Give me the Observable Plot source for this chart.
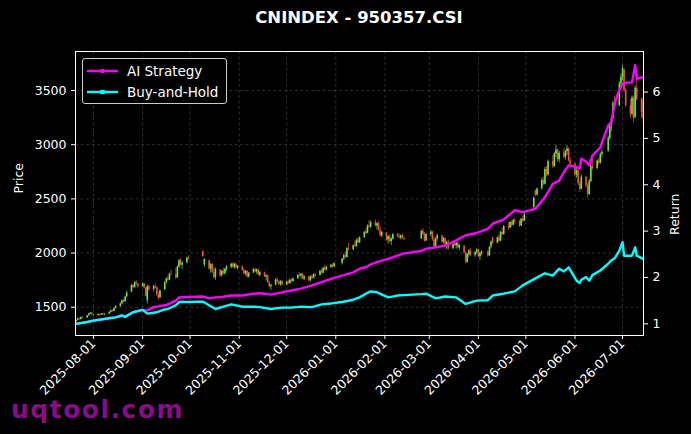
<!DOCTYPE html>
<html>
<head>
<meta charset="utf-8">
<script src="https://cdn.jsdelivr.net/npm/d3@7"></script>
<script src="https://cdn.jsdelivr.net/npm/@observablehq/plot@0.6"></script>
<style>
  body { margin: 0; background: #000; }
  #wrap { position: relative; width: 691px; height: 434px; background: #000; overflow: hidden; font-family: "DejaVu Sans", sans-serif; }
  #title { position: relative; height: 36px; line-height: 36px; margin-left: 75px; width: 568px; text-align: center; color: #fff; font-weight: bold; font-size: 16.5px; z-index: 3; }
  #chart { position: relative; z-index: 1; }
  #wm { position: absolute; left: 11px; top: 395px; line-height: 25px; font: bold 25px "DejaVu Sans", sans-serif; letter-spacing: 1.5px; color: #8b0b8b; z-index: 0; white-space: nowrap; }
  #legend { position: absolute; left: 82px; top: 58px; width: 145px; height: 46px; box-sizing: border-box; border: 1px solid #cccccc; border-radius: 3px; background: rgba(0,0,0,0.85); z-index: 2; }
  #legend svg { position: absolute; left: -1px; top: -1px; }
</style>
</head>
<body>
<div id="wrap">
  <div id="wm">uqtool.com</div>
  <div id="title">CNINDEX - 950357.CSI</div>
  <div id="chart"></div>
  <div id="legend"></div>
</div>
<script>
// ---------- data ----------
const firstDay = "2025-07-21";
const lastDay = "2026-07-14";
const holidays = ["2025-10-01","2025-10-02","2025-10-03","2025-10-06","2025-10-07","2025-10-08",
  "2026-01-01","2026-01-02","2026-02-16","2026-02-17","2026-02-18","2026-02-19","2026-02-20","2026-02-23",
  "2026-04-06","2026-05-01","2026-05-04","2026-05-05","2026-06-19"];

const open = [
  1366,1379,1394,1386,1405, 1400,1421,1437,1445,1431, 1424,1433,1427,1439,1429, 1437,1453,1470,1461,1489,
  1508,1531,1562,1550,1596, 1640,1702,1682,1726,1714, 1692,1716,1676,1560,1688, 1665,1690,1680,1612,1588,
  1660,1728,1760,1752,1805, 1800,1772,1870,1932,1888, 1910,1955, 2012,1890,
  1928,1850,1895,1820,1772, 1840,1792,1832,1810,1850, 1870,1898,1866,1893,1860, 1875,1836,1808,1830,1782,
  1815,1846,1826,1845,1796, 1818,1778,1790,1725,1688, 1705,1752,1728,1710,1738, 1705,1732,1718,1750,1738,
  1762,1795,1785,1805,1760, 1780,1745,1780,1768,1800, 1792,1835,1815,1862,1845, 1868,1888,1872,
  1905,1945,1978,1960,2042, 2032,2070,2060,2120,2095, 2142,2195,2182,2252,2240, 2285,2248,2270,2212,2158,
  2185,2120,2150,2105,2130, 2170,2148,2138,2160,2135, 2130,2200,2170,2110,
  2172,2195,2118,2058,2130, 2160,2100,2135,2060,2098, 2040,2082,2068,2090,2046, 2065,1998,1915,1985,2018,
  1978,2008,2030,1965,1998, 2010,1975,2055,2140, 2092,2140,2110,2192,2170, 2245,2232,2282,2255,2300,
  2288,2250,2312,2295, 2420,2575,2535,
  2592,2672,2635,2770,2720, 2845,2800,2915,2950,2860, 2920,2885,2935,2960,2850, 2820,2720,2760,2640,2590,
  2700,2620,2540,2660,2800, 2780,2850,2830,2910, 2940,3060,3180,3240,3380, 3360,3560,3620,3690,3500,
  3360,3280,3430,3250,3520, 3420,3400
];
const high = [
  1384,1398,1400,1410,1412, 1425,1442,1452,1448,1435, 1438,1437,1442,1441,1440, 1458,1472,1474,1494,1515,
  1540,1568,1570,1602,1648, 1712,1708,1738,1745,1720, 1724,1720,1682,1705,1700, 1700,1718,1690,1640,1660,
  1735,1770,1790,1815,1842, 1860,1880,1940,1950,1920, 1962,1975, 2022,1950,
  1935,1905,1900,1865,1862, 1848,1840,1860,1858,1885, 1905,1910,1905,1908,1885, 1880,1855,1840,1838,1820,
  1855,1860,1852,1850,1830, 1822,1800,1795,1740,1712, 1760,1775,1748,1745,1750, 1740,1752,1758,1765,1768,
  1800,1820,1812,1815,1790, 1785,1790,1800,1808,1812, 1840,1850,1868,1885,1878, 1895,1902,1910,
  1950,1990,2010,2050,2090, 2075,2110,2130,2142,2150, 2200,2225,2260,2300,2295, 2305,2280,2290,2240,2200,
  2192,2160,2170,2140,2180, 2182,2175,2165,2178,2150, 2210,2225,2190,2180,
  2210,2200,2150,2140,2175, 2165,2145,2140,2110,2120, 2090,2115,2100,2105,2080, 2070,2010,1995,2030,2040,
  2015,2040,2035,2005,2020, 2020,2060,2110,2145, 2150,2170,2200,2230,2255, 2280,2290,2300,2310,2320,
  2300,2320,2340,2365, 2520,2580,2600,
  2690,2700,2790,2800,2860, 2900,2930,2990,2960,2940, 2965,2950,2990,2970,2880, 2830,2780,2770,2660,2720,
  2710,2640,2680,2835,2870, 2860,2880,2925,2950, 3080,3200,3260,3400,3450, 3580,3650,3730,3700,3520,
  3420,3450,3450,3540,3610, 3430,3430
];
const low = [
  1362,1374,1380,1382,1392, 1396,1416,1432,1426,1415, 1418,1420,1422,1425,1424, 1432,1448,1455,1456,1484,
  1500,1525,1540,1544,1590, 1635,1672,1676,1700,1680, 1685,1670,1595,1530,1650, 1640,1670,1600,1562,1578,
  1655,1715,1742,1745,1790, 1752,1765,1860,1880,1845, 1900,1935, 1960,1870,
  1840,1812,1810,1760,1748, 1775,1778,1800,1795,1830, 1855,1860,1850,1858,1842, 1830,1800,1790,1770,1768,
  1810,1820,1805,1790,1778, 1775,1740,1720,1680,1655, 1698,1720,1700,1690,1695, 1700,1712,1710,1725,1730,
  1755,1780,1760,1752,1745, 1735,1732,1760,1762,1778, 1788,1805,1808,1835,1830, 1856,1862,1865,
  1888,1930,1950,1955,2020, 2020,2055,2050,2085,2088, 2135,2170,2178,2230,2225, 2240,2210,2200,2150,2140,
  2110,2080,2095,2070,2118, 2140,2130,2120,2130,2115, 2125,2160,2100,2105,
  2150,2110,2040,2050,2110, 2090,2085,2050,2030,2025, 2030,2060,2035,2040,2025, 1990,1900,1905,1960,1970,
  1960,1990,1960,1930,1975, 1960,1968,2040,2080, 2085,2100,2105,2160,2165, 2210,2225,2240,2250,2265,
  2235,2245,2280,2290, 2390,2520,2525,
  2580,2620,2630,2700,2710, 2780,2790,2880,2840,2830, 2870,2860,2900,2840,2800, 2700,2690,2620,2560,2580,
  2600,2510,2530,2650,2760, 2770,2810,2820,2880, 2930,3040,3120,3230,3320, 3350,3520,3590,3480,3340,
  3240,3260,3200,3240,3400, 3240,3200
];
const close = [
  1378,1392,1385,1404,1398, 1420,1438,1446,1430,1424, 1432,1426,1438,1430,1436, 1452,1468,1460,1488,1505,
  1532,1560,1548,1595,1630, 1700,1680,1725,1712,1690, 1715,1678,1600,1690,1662, 1690,1680,1615,1585,1650,
  1728,1760,1750,1805,1800, 1770,1872,1930,1890,1905, 1952,1948, 1968,1940,
  1852,1895,1822,1775,1850, 1790,1832,1812,1850,1872, 1898,1868,1895,1862,1878, 1838,1808,1832,1780,1815,
  1848,1828,1845,1798,1822, 1780,1792,1728,1690,1702, 1752,1730,1712,1738,1705, 1732,1720,1750,1740,1762,
  1795,1785,1805,1762,1782, 1745,1782,1768,1800,1790, 1832,1812,1860,1842,1870, 1888,1870,1902,
  1942,1975,1962,2040,2030, 2068,2062,2118,2092,2140, 2192,2180,2250,2240,2282, 2250,2270,2215,2160,2190,
  2120,2150,2105,2132,2168, 2148,2138,2160,2135,2125, 2200,2170,2112,2172,
  2195,2120,2060,2130,2160, 2100,2135,2062,2098,2040, 2082,2070,2090,2048,2070, 2000,1915,1985,2020,1978,
  2008,2030,1968,1998,2012, 1972,2052,2102,2090, 2140,2110,2190,2172,2245, 2230,2282,2255,2300,2290,
  2250,2312,2295,2355, 2505,2535,2590,
  2670,2635,2770,2720,2845, 2800,2915,2950,2860,2920, 2885,2935,2960,2850,2820, 2720,2760,2640,2590,2700,
  2620,2540,2660,2800,2780, 2850,2830,2910,2930, 3060,3180,3240,3380,3350, 3560,3620,3700,3500,3360,
  3280,3430,3240,3520,3420, 3300,3240
];

const returnDates = [
  "2025-07-21","2025-07-28","2025-08-01","2025-08-11","2025-08-15","2025-08-19","2025-08-21","2025-08-26",
  "2025-09-01","2025-09-04","2025-09-08","2025-09-10","2025-09-15","2025-09-17","2025-09-22","2025-09-24",
  "2025-09-30","2025-10-09","2025-10-13","2025-10-17","2025-10-21","2025-10-27","2025-11-03","2025-11-10",
  "2025-11-14","2025-11-21","2025-11-28","2025-12-04","2025-12-10","2025-12-17","2025-12-23","2025-12-29",
  "2026-01-05","2026-01-12","2026-01-16","2026-01-20","2026-01-23","2026-01-27","2026-02-03","2026-02-09",
  "2026-02-13","2026-02-24","2026-02-27","2026-03-05","2026-03-11","2026-03-18","2026-03-24","2026-03-31",
  "2026-04-07","2026-04-10","2026-04-17","2026-04-24","2026-04-29","2026-05-07","2026-05-13","2026-05-18",
  "2026-05-22","2026-05-25","2026-05-28","2026-06-02","2026-06-04","2026-06-05","2026-06-08","2026-06-10",
  "2026-06-12","2026-06-17","2026-06-22","2026-06-24","2026-06-26","2026-06-29","2026-07-01","2026-07-02",
  "2026-07-07","2026-07-09","2026-07-10","2026-07-14"
];
const aiStrategy = [
  1.00,1.04,1.07,1.12,1.14,1.18,1.15,1.25,
  1.30,1.29,1.36,1.37,1.40,1.42,1.50,1.57,
  1.58,1.59,1.55,1.57,1.58,1.61,1.61,1.65,
  1.66,1.63,1.68,1.72,1.76,1.83,1.90,1.97,
  2.04,2.11,2.19,2.22,2.28,2.33,2.40,2.47,
  2.52,2.57,2.62,2.65,2.69,2.80,2.91,2.96,
  3.05,3.16,3.25,3.45,3.41,3.48,3.73,4.02,
  4.09,4.27,4.42,4.38,4.35,4.56,4.50,4.42,
  4.63,4.81,5.28,5.35,5.75,6.05,6.18,6.20,
  6.21,6.58,6.29,6.32
];
const buyAndHold = [
  1.00,1.04,1.07,1.12,1.14,1.18,1.15,1.25,
  1.30,1.22,1.24,1.25,1.31,1.32,1.40,1.47,
  1.47,1.48,1.40,1.32,1.36,1.42,1.37,1.37,
  1.36,1.32,1.35,1.35,1.37,1.36,1.42,1.44,
  1.47,1.52,1.57,1.65,1.70,1.68,1.57,1.61,
  1.62,1.64,1.65,1.55,1.59,1.57,1.43,1.50,
  1.51,1.61,1.65,1.70,1.83,1.98,2.09,2.04,
  2.19,2.13,2.22,1.93,1.88,1.95,2.01,1.93,
  2.05,2.15,2.30,2.37,2.41,2.58,2.76,2.47,
  2.47,2.65,2.47,2.40
];

const priceTicks = [1500, 2000, 2500, 3000, 3500];
const returnTicks = [1, 2, 3, 4, 5, 6];
const monthTicks = ["2025-08-01","2025-09-01","2025-10-01","2025-11-01","2025-12-01","2026-01-01",
  "2026-02-01","2026-03-01","2026-04-01","2026-05-01","2026-06-01","2026-07-01"];

// ---------- build ----------
const parse = s => new Date(s + "T00:00:00Z");
const hol = new Set(holidays);
const tradingDays = [];
for (let t = +parse(firstDay); t <= +parse(lastDay); t += 864e5) {
  const d = new Date(t);
  const wd = d.getUTCDay();
  if (wd > 0 && wd < 6 && !hol.has(d.toISOString().slice(0, 10))) tradingDays.push(d);
}
const n = Math.min(tradingDays.length, open.length, high.length, low.length, close.length);
const candles = d3.range(n).map(i => ({date: tradingDays[i], o: open[i], h: high[i], l: low[i], c: close[i]}));
const rets = returnDates.map((s, i) => ({date: parse(s), ai: aiStrategy[i], bh: buyAndHold[i]}));

const UP = "#74ec45", DOWN = "#ee5a3a";
const candleColor = d => d.c >= d.o ? UP : DOWN;

// right axis (Return) shares the plot with the price axis
const r2p = r => 1346.7 + 427.8 * (r - 1);
const p2r = p => (p - 1346.7) / 427.8 + 1;

const gridStyle = {stroke: "#8a8a8a", strokeOpacity: 0.55, strokeWidth: 0.6, strokeDasharray: "3,2.5"};

const chart = Plot.plot({
  width: 691,
  height: 398,
  marginTop: 15,
  marginBottom: 99,
  marginLeft: 75,
  marginRight: 48,
  style: {background: "transparent", color: "white", fontFamily: "DejaVu Sans", fontSize: "12px", overflow: "visible"},
  x: {type: "utc", domain: [new Date("2025-07-20T16:00:00Z"), new Date("2026-07-14T06:00:00Z")]},
  y: {domain: [1239, 3860]},
  color: {type: "identity"},
  marks: [
    Plot.gridX(monthTicks.map(parse), gridStyle),
    Plot.gridY(priceTicks, gridStyle),
    Plot.ruleX(candles, {x: "date", y1: "l", y2: "h", stroke: candleColor, strokeWidth: 0.8, strokeOpacity: 0.9}),
    Plot.ruleX(candles, {x: "date", y1: "o", y2: "c", stroke: candleColor, strokeWidth: 1.6, strokeOpacity: 0.9}),
    Plot.line(rets, {x: "date", y: d => r2p(d.ai), stroke: "#ff00ff", strokeWidth: 2.4}),
    Plot.line(rets, {x: "date", y: d => r2p(d.bh), stroke: "#00ffff", strokeWidth: 2.4}),
    Plot.frame({stroke: "white", strokeWidth: 1}),
    Plot.axisX(monthTicks.map(parse), {anchor: "bottom", tickFormat: d3.utcFormat("%Y-%m-%d"), tickRotate: -45, tickSize: 4, tickPadding: 2, label: null, fontSize: 12.5}),
    Plot.axisY(priceTicks, {anchor: "left", tickSize: 4, tickPadding: 5, label: null, tickFormat: d => String(d), fontSize: 12.5}),
    Plot.axisY(returnTicks.map(r2p), {anchor: "right", tickSize: 4, tickPadding: 5, label: null, tickFormat: p => String(Math.round(p2r(p))), fontSize: 12.5}),
    Plot.text(["Price"], {text: d => d, frameAnchor: "left", dx: -57, rotate: -90, fill: "white", fontSize: 12.5}),
    Plot.text(["Return"], {text: d => d, frameAnchor: "right", dx: 31, rotate: -90, fill: "white", fontSize: 12.5})
  ]
});
document.getElementById("chart").appendChild(chart);

// legend
const legendItems = [
  {label: "AI Strategy", color: "#ff00ff", marker: "circle"},
  {label: "Buy-and-Hold", color: "#00ffff", marker: "square"}
];
const lsvg = d3.select("#legend").append("svg").attr("width", 145).attr("height", 46);
legendItems.forEach((it, i) => {
  const y = 13 + i * 21;
  lsvg.append("line").attr("x1", 5).attr("x2", 36).attr("y1", y).attr("y2", y)
    .attr("stroke", it.color).attr("stroke-width", 2.4);
  if (it.marker === "circle") lsvg.append("circle").attr("cx", 20.5).attr("cy", y).attr("r", 2.3).attr("fill", it.color);
  else lsvg.append("rect").attr("x", 18.3).attr("y", y - 2.2).attr("width", 4.4).attr("height", 4.4).attr("fill", it.color);
  lsvg.append("text").attr("x", 45).attr("y", y).attr("dy", "0.36em").attr("fill", "#fff")
    .attr("font-family", "DejaVu Sans").attr("font-size", 13.5).text(it.label);
});
</script>
</body>
</html>
